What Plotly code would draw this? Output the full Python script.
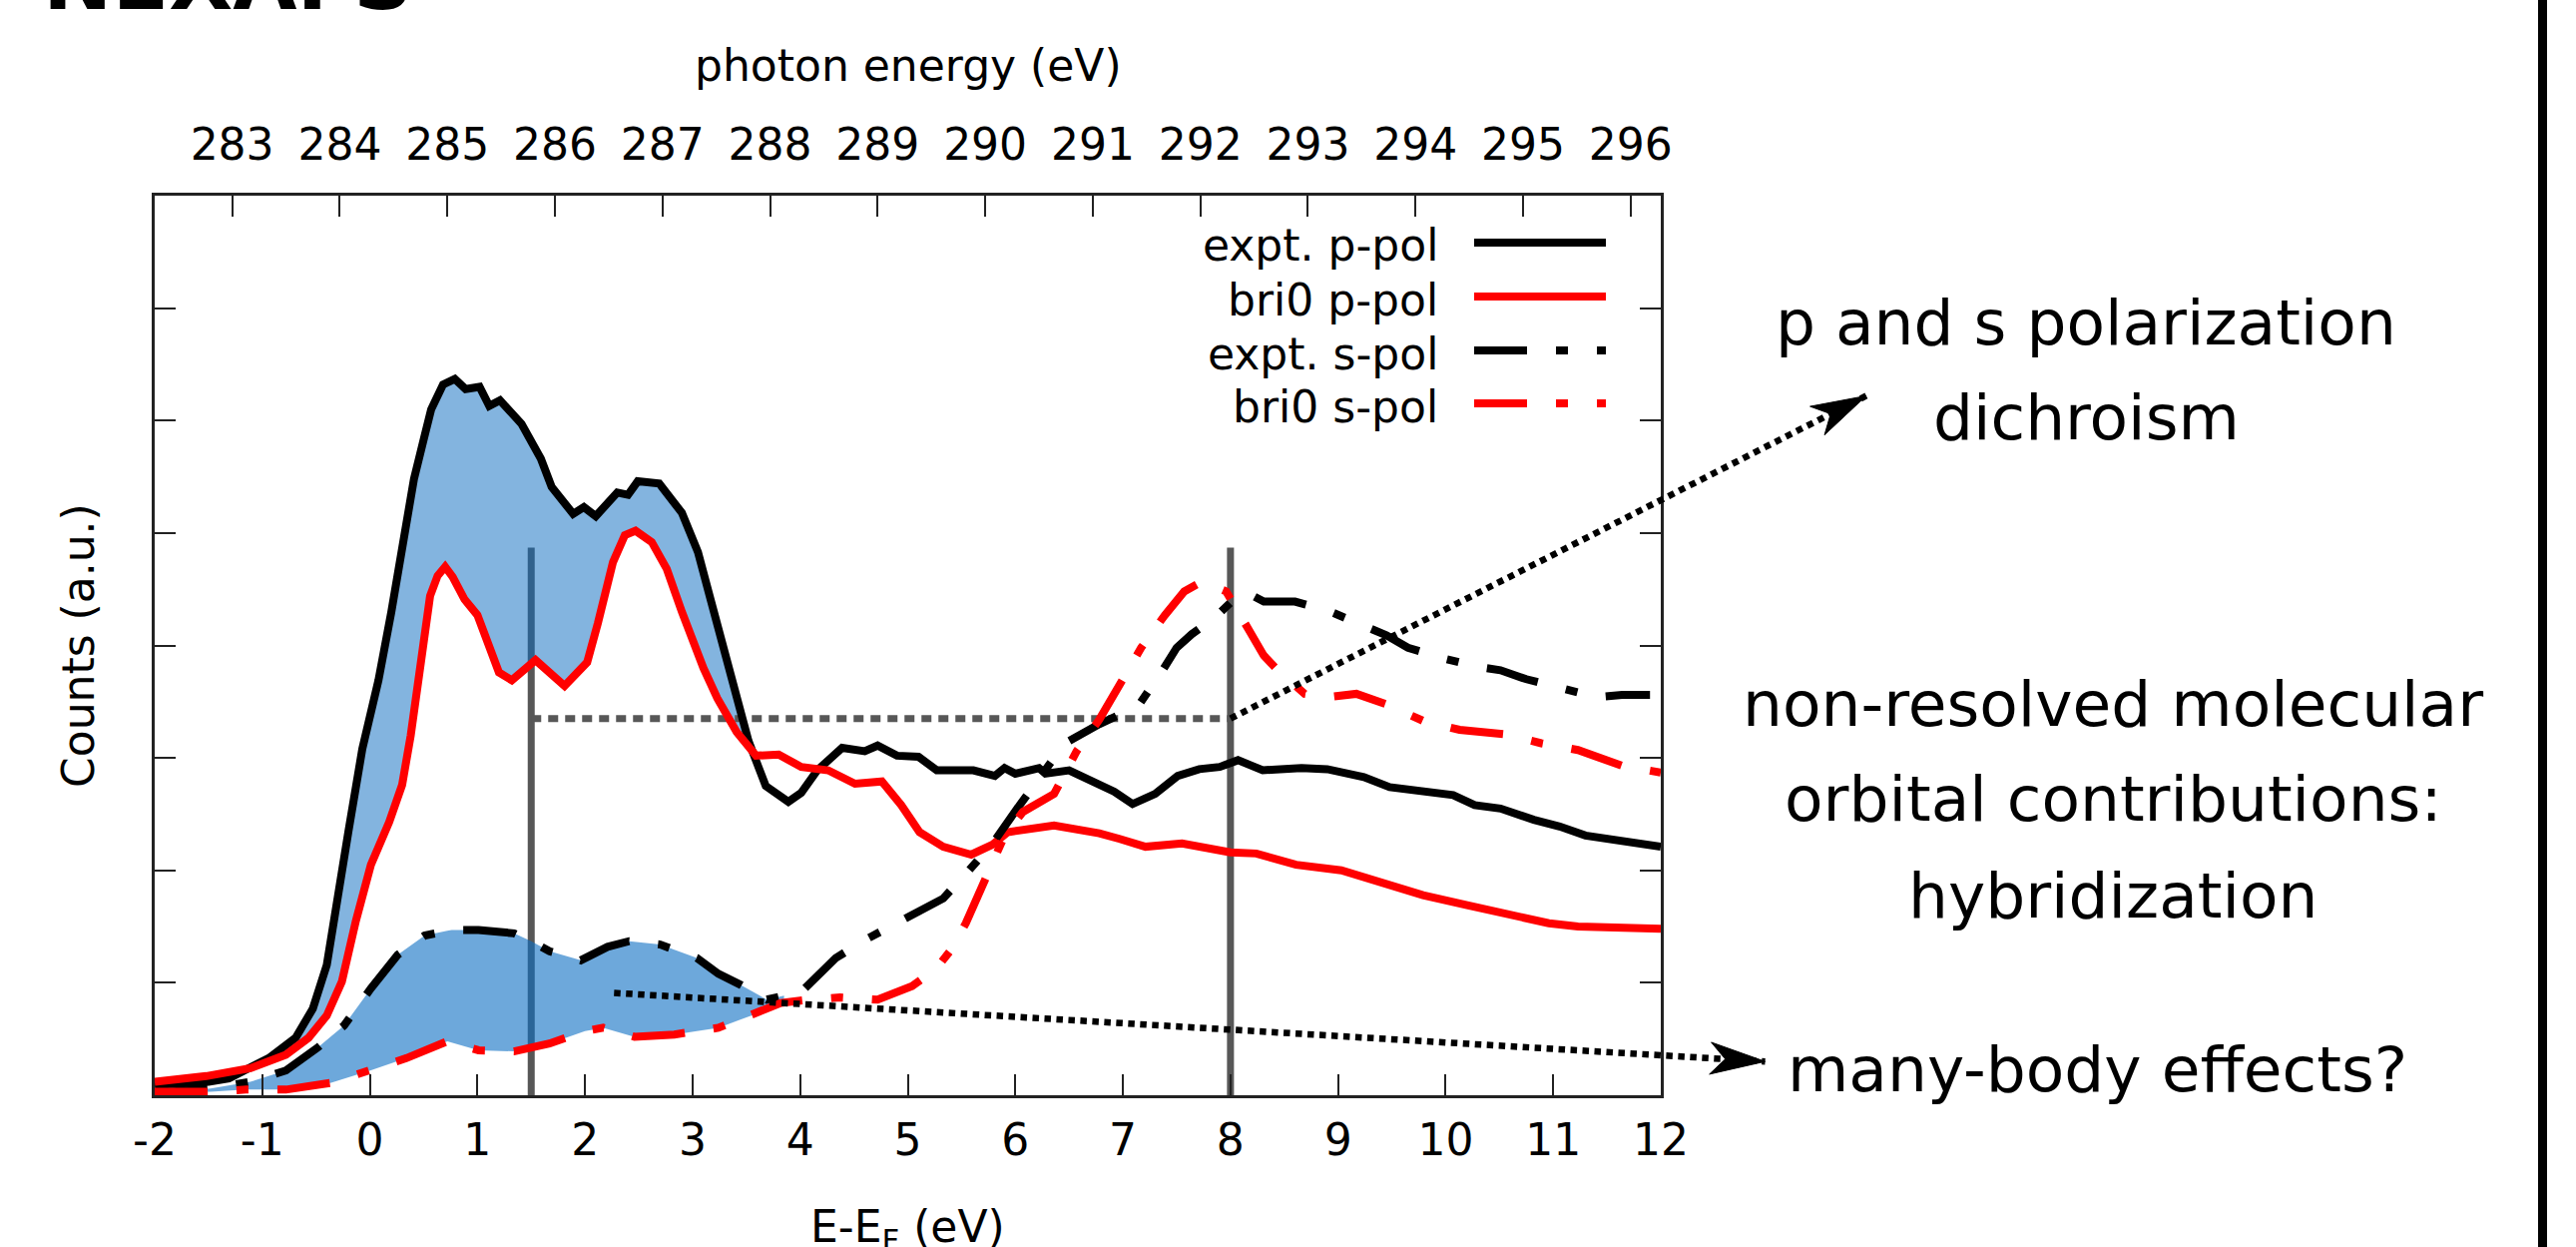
import numpy as np
import plotly.graph_objects as go

# ---------------- data ----------------
expt_p_x = [-2.0, -1.5, -1.31, -0.94, -0.69, -0.53, -0.40, -0.32, -0.20, -0.07, 0.08, 0.20, 0.31, 0.41,
            0.50, 0.57, 0.68, 0.79, 0.89, 1.02, 1.11, 1.21, 1.41, 1.59, 1.69, 1.89, 1.99, 2.10, 2.30,
            2.40, 2.49, 2.69, 2.90, 3.05, 3.17, 3.30, 3.41, 3.52, 3.68, 3.89, 4.01, 4.16, 4.39, 4.60,
            4.72, 4.90, 5.10, 5.27, 5.61, 5.81, 5.90, 6.00, 6.22, 6.28, 6.50, 6.78, 6.92, 7.09, 7.30,
            7.51, 7.71, 7.90, 8.07, 8.30, 8.66, 8.90, 9.24, 9.48, 9.76, 10.07, 10.27, 10.51, 10.82,
            11.06, 11.30, 11.64, 12.0]
expt_p_y = [0.09, 0.12, 0.15, 0.33, 0.51, 0.77, 1.16, 1.60, 2.34, 3.08, 3.69, 4.30, 4.89, 5.48,
            5.83, 6.10, 6.32, 6.37, 6.28, 6.30, 6.13, 6.18, 5.97, 5.66, 5.41, 5.17, 5.23, 5.15, 5.36,
            5.34, 5.46, 5.44, 5.18, 4.83, 4.40, 3.95, 3.55, 3.15, 2.75, 2.61, 2.69, 2.89, 3.09, 3.06,
            3.11, 3.02, 3.01, 2.89, 2.89, 2.84, 2.91, 2.86, 2.91, 2.86, 2.89, 2.76, 2.70, 2.59, 2.68,
            2.84, 2.90, 2.92, 2.98, 2.89, 2.91, 2.90, 2.83, 2.74, 2.70, 2.67, 2.58, 2.55, 2.45,
            2.39, 2.31, 2.26, 2.21]

bri0_p_x = [-2.0, -1.52, -1.11, -0.78, -0.57, -0.40, -0.26, -0.13, 0.01, 0.18, 0.30, 0.38, 0.46, 0.56,
            0.63, 0.70, 0.77, 0.88, 1.00, 1.09, 1.20, 1.32, 1.54, 1.81, 2.02, 2.12, 2.26, 2.37, 2.47,
            2.62, 2.76, 2.90, 3.01, 3.10, 3.23, 3.41, 3.59, 3.80, 4.01, 4.26, 4.51, 4.76, 4.94, 5.11,
            5.33, 5.59, 5.79, 5.93, 6.36, 6.78, 6.97, 7.21, 7.55, 8.00, 8.24, 8.61, 9.03, 9.45, 9.79,
            10.20, 10.55, 10.96, 11.23, 11.64, 12.0]
bri0_p_y = [0.12, 0.17, 0.24, 0.36, 0.51, 0.71, 1.01, 1.55, 2.05, 2.43, 2.76, 3.20, 3.75, 4.44,
            4.62, 4.70, 4.61, 4.41, 4.27, 4.06, 3.76, 3.69, 3.87, 3.64, 3.85, 4.20, 4.74, 4.98, 5.02,
            4.92, 4.68, 4.30, 4.00, 3.80, 3.53, 3.23, 3.02, 3.03, 2.92, 2.89, 2.77, 2.79, 2.58, 2.34,
            2.21, 2.14, 2.23, 2.34, 2.40, 2.33, 2.28, 2.21, 2.24, 2.16, 2.15, 2.05, 2.00, 1.88, 1.78,
            1.69, 1.62, 1.53, 1.50, 1.48, 1.48]

expt_s_x = [-2.0, -1.48, -1.11, -0.78, -0.49, -0.24, 0.01, 0.26, 0.51, 0.76, 1.01, 1.34, 1.50, 1.67,
            1.96, 2.21, 2.41, 2.70, 3.04, 3.24, 3.45, 3.69, 4.01, 4.33, 4.62, 4.94, 5.33, 5.56, 5.79,
            6.04, 6.46, 6.78, 7.14, 7.35, 7.50, 7.64, 7.87, 8.02, 8.15, 8.31, 8.60, 8.93, 9.24, 9.45,
            9.65, 9.96, 10.30, 10.51, 10.75, 11.06, 11.40, 11.64, 11.90]
expt_s_y = [0.02, 0.06, 0.12, 0.22, 0.42, 0.62, 0.95, 1.25, 1.42, 1.47, 1.47, 1.44, 1.37, 1.28,
            1.20, 1.32, 1.37, 1.34, 1.22, 1.08, 0.98, 0.85, 0.92, 1.22, 1.39, 1.56, 1.75, 1.99, 2.24,
            2.58, 3.13, 3.30, 3.46, 3.75, 3.98, 4.10, 4.26, 4.40, 4.47, 4.39, 4.39, 4.30, 4.18, 4.09,
            3.98, 3.89, 3.81, 3.78, 3.70, 3.63, 3.54, 3.56, 3.56]

bri0_s_x = [-2.0, -1.52, -1.15, -0.78, -0.36, -0.03, 0.34, 0.72, 1.01, 1.34, 1.67, 2.00, 2.17, 2.46,
            2.83, 3.24, 3.58, 3.82, 4.07, 4.37, 4.72, 5.04, 5.26, 5.40, 5.54, 5.75, 5.90, 6.07, 6.36,
            6.57, 6.78, 7.00, 7.17, 7.39, 7.57, 7.74, 7.96, 8.17, 8.31, 8.45, 8.69, 8.90, 9.17, 9.44,
            9.79, 10.13, 10.55, 10.89, 11.23, 11.64, 12.0]
bri0_s_y = [0.03, 0.03, 0.05, 0.05, 0.11, 0.21, 0.33, 0.48, 0.40, 0.39, 0.46, 0.57, 0.60, 0.52,
            0.54, 0.60, 0.72, 0.82, 0.85, 0.87, 0.85, 0.97, 1.12, 1.29, 1.53, 2.01, 2.31, 2.52, 2.68,
            3.06, 3.34, 3.70, 3.98, 4.27, 4.48, 4.57, 4.48, 4.14, 3.91, 3.77, 3.57, 3.54, 3.57, 3.48,
            3.33, 3.25, 3.21, 3.13, 3.07, 2.93, 2.87]

series_names = ["expt. p-pol", "bri0 p-pol", "expt. s-pol", "bri0 s-pol"]

x_ticks = list(range(-2, 13))
photon_ticks = list(range(283, 297))
photon_offset = 284.28           # photon energy = E-EF + offset
y_ticks = list(range(1, 8))

ref_lines_x = [1.5, 8.0]         # vertical guide lines
ref_line_top = 4.87
ref_level = 3.35                  # horizontal dotted guide
upper_fill_span = [-1.4, 3.6]
lower_fill_span = [-1.6, 3.85]

arrow_dichroism = [(8.0, 3.35), (13.91, 6.22)]
arrow_manybody = [(2.27, 0.91), (12.97, 0.30)]

# ---------------- layout geometry ----------------
W, H = 2581, 1249
ML, MR, MT, MB = 155, 917, 196, 152
PW = W - ML - MR
PH = H - MT - MB
X_RANGE = [-2, 12]
Y_RANGE = [0, 8]
FONT = "DejaVu Sans"


def px2paper(px, py):
    return (px - ML) / PW, (H - MB - py) / PH


def d2paper(x, y):
    return ((x - X_RANGE[0]) / (X_RANGE[1] - X_RANGE[0]),
            (y - Y_RANGE[0]) / (Y_RANGE[1] - Y_RANGE[0]))


def d2px(x, y):
    px, py = d2paper(x, y)
    return ML + px * PW, H - MB - py * PH


def fill_polygon(xa, ya, xb, yb, span):
    xs = np.union1d(np.array(xa), np.array(xb))
    xs = xs[(xs >= span[0]) & (xs <= span[1])]
    xs = np.union1d(xs, np.array(span))
    top = np.interp(xs, xa, ya)
    bot = np.interp(xs, xb, yb)
    top = np.maximum(top, bot)
    return np.concatenate([xs, xs[::-1]]), np.concatenate([top, bot[::-1]])


fig = go.Figure()

# vertical guide lines (under the fills)
for xv in ref_lines_x:
    fig.add_trace(go.Scatter(x=[xv, xv], y=[0, ref_line_top], mode="lines",
                             line=dict(color="#575757", width=7), hoverinfo="skip",
                             showlegend=False))

# fills
fx, fy = fill_polygon(expt_p_x, expt_p_y, bri0_p_x, bri0_p_y, upper_fill_span)
fig.add_trace(go.Scatter(x=fx, y=fy, fill="toself", mode="lines", line=dict(width=0),
                         fillcolor="rgba(11,108,192,0.51)", hoverinfo="skip", showlegend=False))
fx, fy = fill_polygon(expt_s_x, expt_s_y, bri0_s_x, bri0_s_y, lower_fill_span)
fig.add_trace(go.Scatter(x=fx, y=fy, fill="toself", mode="lines", line=dict(width=0),
                         fillcolor="rgba(11,110,195,0.60)", hoverinfo="skip", showlegend=False))

# horizontal dotted guide
fig.add_trace(go.Scatter(x=ref_lines_x, y=[ref_level, ref_level], mode="lines",
                         line=dict(color="#575757", width=7, dash="10px,7px"),
                         hoverinfo="skip", showlegend=False))

DASHDOT = "53px,29px,12px,29px"
LW = 8
styles = [dict(color="black", width=LW),
          dict(color="#ff0000", width=LW),
          dict(color="black", width=LW, dash=DASHDOT),
          dict(color="#ff0000", width=LW, dash=DASHDOT)]
series = [(expt_p_x, expt_p_y), (bri0_p_x, bri0_p_y), (expt_s_x, expt_s_y), (bri0_s_x, bri0_s_y)]
for (sx, sy), st, nm in zip(series, styles, series_names):
    fig.add_trace(go.Scatter(x=sx, y=sy, mode="lines", line=st, name=nm, showlegend=False))

# invisible trace for the photon-energy axis
fig.add_trace(go.Scatter(x=[photon_ticks[0]], y=[0], xaxis="x2", mode="markers",
                         marker=dict(opacity=0, size=1), hoverinfo="skip", showlegend=False))

shapes = []
annotations = []


# dotted arrows with stealth heads
def add_arrow(p0, p1):
    x0, y0 = d2px(*p0)
    x1, y1 = d2px(*p1)
    a0 = px2paper(x0, y0)
    a1 = px2paper(x1, y1)
    shapes.append(dict(type="line", xref="paper", yref="paper", x0=a0[0], y0=a0[1],
                       x1=a1[0], y1=a1[1], line=dict(color="black", width=6.5, dash="6.5px,5.5px")))
    dx, dy = x1 - x0, y1 - y0
    n = np.hypot(dx, dy)
    ux, uy = dx / n, dy / n
    vx, vy = -uy, ux
    L, Wd, N = 55, 16, 40
    pts = [(x1, y1),
           (x1 - L * ux + Wd * vx, y1 - L * uy + Wd * vy),
           (x1 - N * ux, y1 - N * uy),
           (x1 - L * ux - Wd * vx, y1 - L * uy - Wd * vy)]
    pp = [px2paper(a, b) for a, b in pts]
    path = "M " + " L ".join(f"{a:.5f},{b:.5f}" for a, b in pp) + " Z"
    shapes.append(dict(type="path", xref="paper", yref="paper", path=path,
                       fillcolor="black", line=dict(color="black", width=1)))


add_arrow(*arrow_dichroism)
add_arrow(*arrow_manybody)

# legend (text right-aligned, sample to the right)
leg_rows = [243, 297, 351, 404]
for nm, st, yy in zip(series_names, styles, leg_rows):
    a0 = px2paper(1477, yy)
    a1 = px2paper(1609, yy)
    shapes.append(dict(type="line", xref="paper", yref="paper", x0=a0[0], y0=a0[1],
                       x1=a1[0], y1=a1[1],
                       line=dict(color=st["color"], width=8, dash=st.get("dash", "solid"))))
    tx, ty = px2paper(1443, yy + 3)
    annotations.append(dict(text=nm, xref="paper", yref="paper", x=tx, y=ty, xanchor="right",
                            yanchor="middle", showarrow=False,
                            font=dict(family=FONT, size=44, color="black")))

# right-side black bar
b0 = px2paper(2543, 0)
b1 = px2paper(2552, H)
shapes.append(dict(type="rect", xref="paper", yref="paper", x0=b0[0], x1=b1[0], y0=b1[1], y1=b0[1],
                   fillcolor="black", line=dict(width=0)))


def text(t, px, py, size, xanchor="center", bold=False, angle=0):
    x, y = px2paper(px, py)
    annotations.append(dict(text=(f"<b>{t}</b>" if bold else t), xref="paper", yref="paper",
                            x=x, y=y, xanchor=xanchor, yanchor="middle", showarrow=False,
                            textangle=angle, font=dict(family=FONT, size=size, color="black")))


text("NEXAFS", 228, -19, 83, bold=True)
text("photon energy (eV)", 910, 65, 44)
text("E-E<sub>F</sub> (eV)", 910, 1231, 44)
text("Counts (a.u.)", 78, 647, 44, angle=-90)
text("p and s polarization", 2090, 323, 63)
text("dichroism", 2090, 418, 63)
text("non-resolved molecular", 2117, 705, 63)
text("orbital contributions:", 2117, 800, 63)
text("hybridization", 2117, 897, 63)
text("many-body effects?", 2101, 1071, 63)

axis_common = dict(showgrid=False, zeroline=False, showline=True, linecolor="#222",
                   linewidth=2.5, ticks="inside", ticklen=21, tickwidth=2, tickcolor="#222",
                   tickfont=dict(family=FONT, size=44, color="black"))

fig.update_layout(
    width=W, height=H, autosize=False,
    margin=dict(l=ML, r=MR, t=MT, b=MB, pad=0),
    paper_bgcolor="white", plot_bgcolor="white",
    showlegend=False,
    xaxis=dict(range=X_RANGE, tickvals=x_ticks, ticktext=[str(v) for v in x_ticks],
               ticklabelstandoff=4, **axis_common),
    xaxis2=dict(range=[X_RANGE[0] + photon_offset, X_RANGE[1] + photon_offset],
                tickvals=photon_ticks, overlaying="x", side="top", anchor="y",
                ticklabelstandoff=16, **axis_common),
    yaxis=dict(range=Y_RANGE, tickvals=y_ticks, showticklabels=False, mirror="ticks",
               **axis_common),
    shapes=shapes,
    annotations=annotations,
)

fig.write_html("out.html")
